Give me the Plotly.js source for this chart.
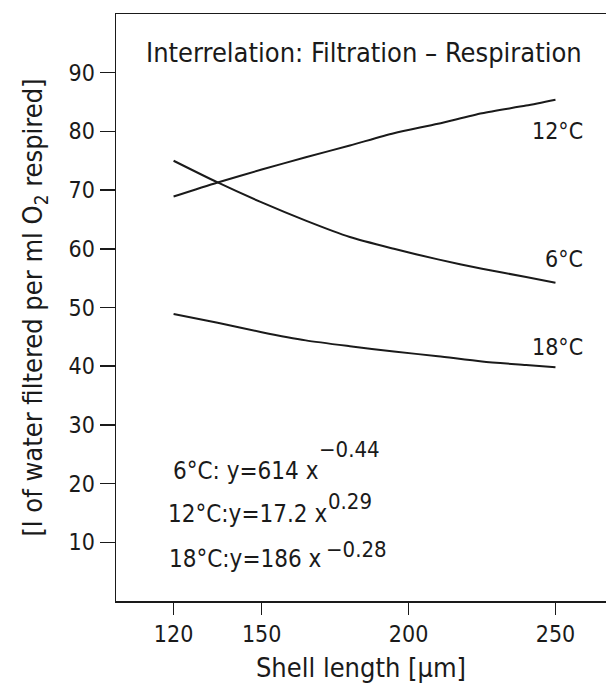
<!DOCTYPE html>
<html>
<head>
<meta charset="utf-8">
<script src="https://cdn.plot.ly/plotly-3.0.1.min.js"></script>
<style>html,body{margin:0;padding:0;background:#fff;}#chart{width:606px;height:684px;}</style>
</head>
<body>
<div id="chart"></div>
<script>
// Shell length (µm) at which values were read
var shellLength = [120, 135, 150, 165, 180, 195, 210, 225, 240, 250];
// l of water filtered per ml O2 respired
var temp6  = [75.0, 71.3, 67.9, 64.8, 62.0, 60.0, 58.2, 56.6, 55.2, 54.2];
var temp12 = [68.9, 71.3, 73.5, 75.6, 77.6, 79.7, 81.3, 83.1, 84.4, 85.4];
var temp18 = [48.9, 47.4, 45.8, 44.4, 43.4, 42.5, 41.7, 40.8, 40.2, 39.8];
var seriesNames = ["6°C", "12°C", "18°C"];
var xTicks = [120, 150, 200, 250];
var yTicks = [10, 20, 30, 40, 50, 60, 70, 80, 90];
var equations = ["6°C: y=614 x", "12°C:y=17.2 x", "18°C:y=186 x"];
var exponents = ["−0.44", "0.29", "−0.28"];

var FONT = "DejaVu Sans Condensed, DejaVu Sans, sans-serif";
var INK = "#1a1a1a";

var lineStyle = {color: INK, width: 2, shape: "spline", smoothing: 0.7};
var traces = [temp6, temp12, temp18].map(function (vals, i) {
  return {x: shellLength, y: vals, type: "scatter", mode: "lines", name: seriesNames[i],
          line: lineStyle, hoverinfo: "x+y+name"};
});

var labelY = [58.2, 80.0, 43.3];
var annotations = seriesNames.map(function (n, i) {
  return {x: 260, y: labelY[i], xref: "x", yref: "y", text: n, showarrow: false,
          xanchor: "right", yanchor: "middle", font: {family: FONT, size: 23, color: INK}};
});
annotations.push({x: 0.057, y: 0.935, xref: "paper", yref: "paper", xanchor: "left", yanchor: "middle",
  text: "Interrelation: Filtration – Respiration", showarrow: false,
  font: {family: FONT, size: 27, color: INK}});

var eqX = [0.112, 0.102, 0.104];
var eqY = [0.222, 0.148, 0.071];
var exX = [0.410, 0.428, 0.424];
var exY = [0.258, 0.169, 0.087];
equations.forEach(function (t, i) {
  annotations.push({x: eqX[i], y: eqY[i], xref: "paper", yref: "paper", xanchor: "left", yanchor: "middle",
    text: t, showarrow: false, font: {family: FONT, size: 24, color: INK}});
  annotations.push({x: exX[i], y: exY[i], xref: "paper", yref: "paper", xanchor: "left", yanchor: "middle",
    text: exponents[i], showarrow: false, font: {family: FONT, size: 22, color: INK}});
});

var layout = {
  width: 606, height: 684,
  margin: {l: 116, r: 0, t: 14, b: 83},
  paper_bgcolor: "#fff", plot_bgcolor: "#fff",
  showlegend: false,
  xaxis: {range: [100.4, 267.2], tickmode: "array", tickvals: xTicks, ticktext: xTicks.map(String),
          ticks: "outside", ticklen: 12, tickwidth: 1.5, tickcolor: INK,
          showline: true, linecolor: INK, linewidth: 1.5, mirror: true,
          showgrid: false, zeroline: false,
          tickfont: {family: FONT, size: 23, color: INK},
          title: {text: "Shell length [µm]", standoff: 12, font: {family: FONT, size: 27, color: INK}}},
  yaxis: {range: [0, 100], tickmode: "array", tickvals: yTicks, ticktext: yTicks.map(String),
          ticks: "outside", ticklen: 15, tickwidth: 1.5, tickcolor: INK,
          showline: true, linecolor: INK, linewidth: 1.5,
          showgrid: false, zeroline: false,
          tickfont: {family: FONT, size: 23, color: INK},
          title: {text: "[l of water filtered per ml O<sub>2</sub> respired]", standoff: 18,
                  font: {family: FONT, size: 27, color: INK}}},
  annotations: annotations
};

Plotly.newPlot("chart", traces, layout, {displayModeBar: false, staticPlot: true});
</script>
</body>
</html>
